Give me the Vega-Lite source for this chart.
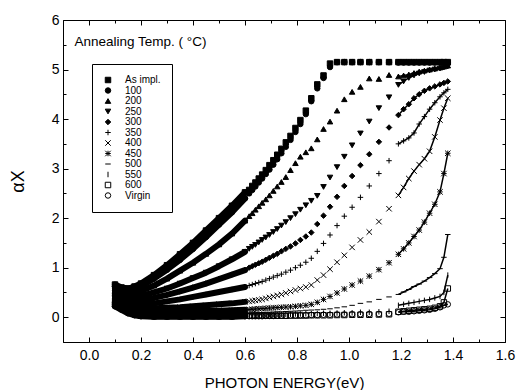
{
"$schema":"https://vega.github.io/schema/vega-lite/v6.json",
"width":442,"height":322,
"autosize":{"type":"none"},
"padding":{"left":63,"top":20,"right":16,"bottom":48},
"background":"white",
"data":{"values":[
{"s":"As impl.","e":0.1,"v":0.66},{"s":"As impl.","e":0.125,"v":0.6},{"s":"As impl.","e":0.15,"v":0.58},{"s":"As impl.","e":0.175,"v":0.62},{"s":"As impl.","e":0.2,"v":0.68},{"s":"As impl.","e":0.25,"v":0.85},{"s":"As impl.","e":0.3,"v":1.05},{"s":"As impl.","e":0.35,"v":1.27},{"s":"As impl.","e":0.4,"v":1.5},{"s":"As impl.","e":0.45,"v":1.75},{"s":"As impl.","e":0.5,"v":2.0},{"s":"As impl.","e":0.55,"v":2.25},{"s":"As impl.","e":0.6,"v":2.52},
{"s":"As impl.","e":0.616,"v":2.57},{"s":"As impl.","e":0.628,"v":2.65},{"s":"As impl.","e":0.64,"v":2.72},{"s":"As impl.","e":0.653,"v":2.8},{"s":"As impl.","e":0.666,"v":2.88},{"s":"As impl.","e":0.68,"v":2.97},{"s":"As impl.","e":0.694,"v":3.07},{"s":"As impl.","e":0.709,"v":3.17},{"s":"As impl.","e":0.724,"v":3.28},{"s":"As impl.","e":0.74,"v":3.4},{"s":"As impl.","e":0.757,"v":3.53},{"s":"As impl.","e":0.775,"v":3.66},{"s":"As impl.","e":0.794,"v":3.82},{"s":"As impl.","e":0.813,"v":3.98},{"s":"As impl.","e":0.834,"v":4.17},{"s":"As impl.","e":0.855,"v":4.42},{"s":"As impl.","e":0.878,"v":4.7},{"s":"As impl.","e":0.902,"v":4.88},{"s":"As impl.","e":0.927,"v":5.12},{"s":"As impl.","e":0.954,"v":5.15},{"s":"As impl.","e":0.982,"v":5.15},{"s":"As impl.","e":1.012,"v":5.15},{"s":"As impl.","e":1.044,"v":5.15},{"s":"As impl.","e":1.078,"v":5.15},{"s":"As impl.","e":1.115,"v":5.15},{"s":"As impl.","e":1.154,"v":5.15},
{"s":"As impl.","e":1.19,"v":5.15},{"s":"As impl.","e":1.21,"v":5.15},{"s":"As impl.","e":1.23,"v":5.15},{"s":"As impl.","e":1.25,"v":5.15},{"s":"As impl.","e":1.27,"v":5.15},{"s":"As impl.","e":1.29,"v":5.15},{"s":"As impl.","e":1.31,"v":5.15},{"s":"As impl.","e":1.33,"v":5.15},{"s":"As impl.","e":1.35,"v":5.15},{"s":"As impl.","e":1.365,"v":5.15},{"s":"As impl.","e":1.38,"v":5.15},
{"s":"100","e":0.1,"v":0.62},{"s":"100","e":0.125,"v":0.57},{"s":"100","e":0.15,"v":0.55},{"s":"100","e":0.175,"v":0.58},{"s":"100","e":0.2,"v":0.63},{"s":"100","e":0.25,"v":0.78},{"s":"100","e":0.3,"v":0.96},{"s":"100","e":0.35,"v":1.16},{"s":"100","e":0.4,"v":1.38},{"s":"100","e":0.45,"v":1.62},{"s":"100","e":0.5,"v":1.87},{"s":"100","e":0.55,"v":2.12},{"s":"100","e":0.6,"v":2.4},
{"s":"100","e":0.616,"v":2.5},{"s":"100","e":0.628,"v":2.57},{"s":"100","e":0.64,"v":2.64},{"s":"100","e":0.653,"v":2.72},{"s":"100","e":0.666,"v":2.8},{"s":"100","e":0.68,"v":2.89},{"s":"100","e":0.694,"v":2.98},{"s":"100","e":0.709,"v":3.08},{"s":"100","e":0.724,"v":3.19},{"s":"100","e":0.74,"v":3.31},{"s":"100","e":0.757,"v":3.44},{"s":"100","e":0.775,"v":3.58},{"s":"100","e":0.794,"v":3.74},{"s":"100","e":0.813,"v":3.9},{"s":"100","e":0.834,"v":4.1},{"s":"100","e":0.855,"v":4.36},{"s":"100","e":0.878,"v":4.62},{"s":"100","e":0.902,"v":4.83},{"s":"100","e":0.927,"v":5.05},{"s":"100","e":0.954,"v":5.15},{"s":"100","e":0.982,"v":5.15},{"s":"100","e":1.012,"v":5.15},{"s":"100","e":1.044,"v":5.15},{"s":"100","e":1.078,"v":5.15},{"s":"100","e":1.115,"v":5.15},{"s":"100","e":1.154,"v":5.15},
{"s":"100","e":1.19,"v":5.14},{"s":"100","e":1.21,"v":5.14},{"s":"100","e":1.23,"v":5.14},{"s":"100","e":1.25,"v":5.14},{"s":"100","e":1.27,"v":5.14},{"s":"100","e":1.29,"v":5.14},{"s":"100","e":1.31,"v":5.14},{"s":"100","e":1.33,"v":5.14},{"s":"100","e":1.35,"v":5.14},{"s":"100","e":1.365,"v":5.14},{"s":"100","e":1.38,"v":5.14},
{"s":"200","e":0.1,"v":0.58},{"s":"200","e":0.125,"v":0.52},{"s":"200","e":0.15,"v":0.49},{"s":"200","e":0.175,"v":0.5},{"s":"200","e":0.2,"v":0.53},{"s":"200","e":0.25,"v":0.64},{"s":"200","e":0.3,"v":0.78},{"s":"200","e":0.35,"v":0.94},{"s":"200","e":0.4,"v":1.1},{"s":"200","e":0.45,"v":1.28},{"s":"200","e":0.5,"v":1.47},{"s":"200","e":0.55,"v":1.69},{"s":"200","e":0.6,"v":1.95},
{"s":"200","e":0.616,"v":2.04},{"s":"200","e":0.628,"v":2.1},{"s":"200","e":0.64,"v":2.17},{"s":"200","e":0.653,"v":2.24},{"s":"200","e":0.666,"v":2.31},{"s":"200","e":0.68,"v":2.38},{"s":"200","e":0.694,"v":2.46},{"s":"200","e":0.709,"v":2.55},{"s":"200","e":0.724,"v":2.64},{"s":"200","e":0.74,"v":2.73},{"s":"200","e":0.757,"v":2.83},{"s":"200","e":0.775,"v":2.97},{"s":"200","e":0.794,"v":3.11},{"s":"200","e":0.813,"v":3.24},{"s":"200","e":0.834,"v":3.33},{"s":"200","e":0.855,"v":3.41},{"s":"200","e":0.878,"v":3.59},{"s":"200","e":0.902,"v":3.8},{"s":"200","e":0.927,"v":3.95},{"s":"200","e":0.954,"v":4.17},{"s":"200","e":0.982,"v":4.4},{"s":"200","e":1.012,"v":4.55},{"s":"200","e":1.044,"v":4.65},{"s":"200","e":1.078,"v":4.82},{"s":"200","e":1.115,"v":4.81},{"s":"200","e":1.154,"v":4.89},
{"s":"200","e":1.19,"v":4.86},{"s":"200","e":1.21,"v":4.88},{"s":"200","e":1.23,"v":4.9},{"s":"200","e":1.25,"v":4.93},{"s":"200","e":1.27,"v":4.96},{"s":"200","e":1.29,"v":4.98},{"s":"200","e":1.31,"v":5.0},{"s":"200","e":1.33,"v":5.02},{"s":"200","e":1.35,"v":5.04},{"s":"200","e":1.365,"v":5.06},{"s":"200","e":1.38,"v":5.08},
{"s":"250","e":0.1,"v":0.54},{"s":"250","e":0.125,"v":0.47},{"s":"250","e":0.15,"v":0.43},{"s":"250","e":0.175,"v":0.42},{"s":"250","e":0.2,"v":0.43},{"s":"250","e":0.25,"v":0.5},{"s":"250","e":0.3,"v":0.58},{"s":"250","e":0.35,"v":0.68},{"s":"250","e":0.4,"v":0.79},{"s":"250","e":0.45,"v":0.9},{"s":"250","e":0.5,"v":1.03},{"s":"250","e":0.55,"v":1.17},{"s":"250","e":0.6,"v":1.32},
{"s":"250","e":0.616,"v":1.38},{"s":"250","e":0.628,"v":1.42},{"s":"250","e":0.64,"v":1.46},{"s":"250","e":0.653,"v":1.51},{"s":"250","e":0.666,"v":1.56},{"s":"250","e":0.68,"v":1.61},{"s":"250","e":0.694,"v":1.66},{"s":"250","e":0.709,"v":1.72},{"s":"250","e":0.724,"v":1.78},{"s":"250","e":0.74,"v":1.85},{"s":"250","e":0.757,"v":1.92},{"s":"250","e":0.775,"v":2.0},{"s":"250","e":0.794,"v":2.08},{"s":"250","e":0.813,"v":2.17},{"s":"250","e":0.834,"v":2.26},{"s":"250","e":0.855,"v":2.35},{"s":"250","e":0.878,"v":2.45},{"s":"250","e":0.902,"v":2.63},{"s":"250","e":0.927,"v":2.82},{"s":"250","e":0.954,"v":3.03},{"s":"250","e":0.982,"v":3.24},{"s":"250","e":1.012,"v":3.47},{"s":"250","e":1.044,"v":3.71},{"s":"250","e":1.078,"v":3.95},{"s":"250","e":1.115,"v":4.22},{"s":"250","e":1.154,"v":4.44},
{"s":"250","e":1.19,"v":4.69},{"s":"250","e":1.21,"v":4.76},{"s":"250","e":1.23,"v":4.83},{"s":"250","e":1.25,"v":4.88},{"s":"250","e":1.27,"v":4.92},{"s":"250","e":1.29,"v":4.95},{"s":"250","e":1.31,"v":4.98},{"s":"250","e":1.33,"v":5.0},{"s":"250","e":1.35,"v":5.02},{"s":"250","e":1.365,"v":5.04},{"s":"250","e":1.38,"v":5.06},
{"s":"300","e":0.1,"v":0.5},{"s":"300","e":0.125,"v":0.42},{"s":"300","e":0.15,"v":0.37},{"s":"300","e":0.175,"v":0.35},{"s":"300","e":0.2,"v":0.35},{"s":"300","e":0.25,"v":0.39},{"s":"300","e":0.3,"v":0.45},{"s":"300","e":0.35,"v":0.52},{"s":"300","e":0.4,"v":0.6},{"s":"300","e":0.45,"v":0.68},{"s":"300","e":0.5,"v":0.77},{"s":"300","e":0.55,"v":0.86},{"s":"300","e":0.6,"v":0.95},
{"s":"300","e":0.616,"v":1.0},{"s":"300","e":0.628,"v":1.03},{"s":"300","e":0.64,"v":1.06},{"s":"300","e":0.653,"v":1.09},{"s":"300","e":0.666,"v":1.12},{"s":"300","e":0.68,"v":1.16},{"s":"300","e":0.694,"v":1.2},{"s":"300","e":0.709,"v":1.24},{"s":"300","e":0.724,"v":1.28},{"s":"300","e":0.74,"v":1.33},{"s":"300","e":0.757,"v":1.38},{"s":"300","e":0.775,"v":1.43},{"s":"300","e":0.794,"v":1.49},{"s":"300","e":0.813,"v":1.56},{"s":"300","e":0.834,"v":1.63},{"s":"300","e":0.855,"v":1.71},{"s":"300","e":0.878,"v":1.88},{"s":"300","e":0.902,"v":2.05},{"s":"300","e":0.927,"v":2.23},{"s":"300","e":0.954,"v":2.43},{"s":"300","e":0.982,"v":2.65},{"s":"300","e":1.012,"v":2.85},{"s":"300","e":1.044,"v":3.07},{"s":"300","e":1.078,"v":3.29},{"s":"300","e":1.115,"v":3.54},{"s":"300","e":1.154,"v":3.83},
{"s":"300","e":1.19,"v":4.08},{"s":"300","e":1.21,"v":4.2},{"s":"300","e":1.23,"v":4.3},{"s":"300","e":1.25,"v":4.42},{"s":"300","e":1.27,"v":4.5},{"s":"300","e":1.29,"v":4.57},{"s":"300","e":1.31,"v":4.62},{"s":"300","e":1.33,"v":4.66},{"s":"300","e":1.35,"v":4.7},{"s":"300","e":1.365,"v":4.73},{"s":"300","e":1.38,"v":4.76},
{"s":"350","e":0.1,"v":0.46},{"s":"350","e":0.125,"v":0.38},{"s":"350","e":0.15,"v":0.32},{"s":"350","e":0.175,"v":0.28},{"s":"350","e":0.2,"v":0.26},{"s":"350","e":0.25,"v":0.28},{"s":"350","e":0.3,"v":0.32},{"s":"350","e":0.35,"v":0.36},{"s":"350","e":0.4,"v":0.41},{"s":"350","e":0.45,"v":0.46},{"s":"350","e":0.5,"v":0.51},{"s":"350","e":0.55,"v":0.56},{"s":"350","e":0.6,"v":0.61},
{"s":"350","e":0.616,"v":0.64},{"s":"350","e":0.628,"v":0.66},{"s":"350","e":0.64,"v":0.68},{"s":"350","e":0.653,"v":0.7},{"s":"350","e":0.666,"v":0.72},{"s":"350","e":0.68,"v":0.75},{"s":"350","e":0.694,"v":0.78},{"s":"350","e":0.709,"v":0.81},{"s":"350","e":0.724,"v":0.84},{"s":"350","e":0.74,"v":0.87},{"s":"350","e":0.757,"v":0.91},{"s":"350","e":0.775,"v":0.95},{"s":"350","e":0.794,"v":1.0},{"s":"350","e":0.813,"v":1.05},{"s":"350","e":0.834,"v":1.11},{"s":"350","e":0.855,"v":1.19},{"s":"350","e":0.878,"v":1.33},{"s":"350","e":0.902,"v":1.49},{"s":"350","e":0.927,"v":1.66},{"s":"350","e":0.954,"v":1.85},{"s":"350","e":0.982,"v":2.04},{"s":"350","e":1.012,"v":2.22},{"s":"350","e":1.044,"v":2.42},{"s":"350","e":1.078,"v":2.65},{"s":"350","e":1.115,"v":2.9},{"s":"350","e":1.154,"v":3.16},
{"s":"350","e":1.19,"v":3.5},{"s":"350","e":1.21,"v":3.56},{"s":"350","e":1.23,"v":3.62},{"s":"350","e":1.25,"v":3.72},{"s":"350","e":1.27,"v":3.9},{"s":"350","e":1.29,"v":4.05},{"s":"350","e":1.31,"v":4.2},{"s":"350","e":1.33,"v":4.33},{"s":"350","e":1.35,"v":4.45},{"s":"350","e":1.365,"v":4.53},{"s":"350","e":1.38,"v":4.6},
{"s":"400","e":0.1,"v":0.42},{"s":"400","e":0.125,"v":0.34},{"s":"400","e":0.15,"v":0.27},{"s":"400","e":0.175,"v":0.22},{"s":"400","e":0.2,"v":0.19},{"s":"400","e":0.25,"v":0.18},{"s":"400","e":0.3,"v":0.19},{"s":"400","e":0.35,"v":0.2},{"s":"400","e":0.4,"v":0.22},{"s":"400","e":0.45,"v":0.24},{"s":"400","e":0.5,"v":0.26},{"s":"400","e":0.55,"v":0.28},{"s":"400","e":0.6,"v":0.31},
{"s":"400","e":0.616,"v":0.32},{"s":"400","e":0.628,"v":0.33},{"s":"400","e":0.64,"v":0.34},{"s":"400","e":0.653,"v":0.35},{"s":"400","e":0.666,"v":0.36},{"s":"400","e":0.68,"v":0.38},{"s":"400","e":0.694,"v":0.4},{"s":"400","e":0.709,"v":0.42},{"s":"400","e":0.724,"v":0.44},{"s":"400","e":0.74,"v":0.46},{"s":"400","e":0.757,"v":0.49},{"s":"400","e":0.775,"v":0.52},{"s":"400","e":0.794,"v":0.55},{"s":"400","e":0.813,"v":0.58},{"s":"400","e":0.834,"v":0.61},{"s":"400","e":0.855,"v":0.65},{"s":"400","e":0.878,"v":0.75},{"s":"400","e":0.902,"v":0.85},{"s":"400","e":0.927,"v":0.97},{"s":"400","e":0.954,"v":1.11},{"s":"400","e":0.982,"v":1.25},{"s":"400","e":1.012,"v":1.41},{"s":"400","e":1.044,"v":1.56},{"s":"400","e":1.078,"v":1.72},{"s":"400","e":1.115,"v":1.93},{"s":"400","e":1.154,"v":2.19},
{"s":"400","e":1.19,"v":2.46},{"s":"400","e":1.21,"v":2.62},{"s":"400","e":1.23,"v":2.8},{"s":"400","e":1.25,"v":2.95},{"s":"400","e":1.27,"v":3.08},{"s":"400","e":1.29,"v":3.2},{"s":"400","e":1.31,"v":3.35},{"s":"400","e":1.33,"v":3.64},{"s":"400","e":1.35,"v":3.98},{"s":"400","e":1.365,"v":4.22},{"s":"400","e":1.38,"v":4.42},
{"s":"450","e":0.1,"v":0.38},{"s":"450","e":0.125,"v":0.3},{"s":"450","e":0.15,"v":0.22},{"s":"450","e":0.175,"v":0.17},{"s":"450","e":0.2,"v":0.13},{"s":"450","e":0.25,"v":0.11},{"s":"450","e":0.3,"v":0.11},{"s":"450","e":0.35,"v":0.11},{"s":"450","e":0.4,"v":0.12},{"s":"450","e":0.45,"v":0.13},{"s":"450","e":0.5,"v":0.13},{"s":"450","e":0.55,"v":0.14},{"s":"450","e":0.6,"v":0.15},
{"s":"450","e":0.616,"v":0.155},{"s":"450","e":0.628,"v":0.16},{"s":"450","e":0.64,"v":0.165},{"s":"450","e":0.653,"v":0.17},{"s":"450","e":0.666,"v":0.175},{"s":"450","e":0.68,"v":0.18},{"s":"450","e":0.694,"v":0.185},{"s":"450","e":0.709,"v":0.19},{"s":"450","e":0.724,"v":0.195},{"s":"450","e":0.74,"v":0.2},{"s":"450","e":0.757,"v":0.205},{"s":"450","e":0.775,"v":0.21},{"s":"450","e":0.794,"v":0.22},{"s":"450","e":0.813,"v":0.23},{"s":"450","e":0.834,"v":0.24},{"s":"450","e":0.855,"v":0.26},{"s":"450","e":0.878,"v":0.3},{"s":"450","e":0.902,"v":0.36},{"s":"450","e":0.927,"v":0.42},{"s":"450","e":0.954,"v":0.49},{"s":"450","e":0.982,"v":0.57},{"s":"450","e":1.012,"v":0.65},{"s":"450","e":1.044,"v":0.73},{"s":"450","e":1.078,"v":0.83},{"s":"450","e":1.115,"v":0.96},{"s":"450","e":1.154,"v":1.1},
{"s":"450","e":1.19,"v":1.27},{"s":"450","e":1.21,"v":1.38},{"s":"450","e":1.23,"v":1.5},{"s":"450","e":1.25,"v":1.63},{"s":"450","e":1.27,"v":1.76},{"s":"450","e":1.29,"v":1.92},{"s":"450","e":1.31,"v":2.1},{"s":"450","e":1.33,"v":2.28},{"s":"450","e":1.35,"v":2.53},{"s":"450","e":1.365,"v":2.9},{"s":"450","e":1.38,"v":3.31},
{"s":"500","e":0.1,"v":0.34},{"s":"500","e":0.125,"v":0.26},{"s":"500","e":0.15,"v":0.18},{"s":"500","e":0.175,"v":0.12},{"s":"500","e":0.2,"v":0.09},{"s":"500","e":0.25,"v":0.07},{"s":"500","e":0.3,"v":0.07},{"s":"500","e":0.35,"v":0.07},{"s":"500","e":0.4,"v":0.07},{"s":"500","e":0.45,"v":0.08},{"s":"500","e":0.5,"v":0.08},{"s":"500","e":0.55,"v":0.08},{"s":"500","e":0.6,"v":0.08},
{"s":"500","e":0.616,"v":0.08},{"s":"500","e":0.628,"v":0.085},{"s":"500","e":0.64,"v":0.09},{"s":"500","e":0.653,"v":0.09},{"s":"500","e":0.666,"v":0.095},{"s":"500","e":0.68,"v":0.1},{"s":"500","e":0.694,"v":0.1},{"s":"500","e":0.709,"v":0.105},{"s":"500","e":0.724,"v":0.11},{"s":"500","e":0.74,"v":0.11},{"s":"500","e":0.757,"v":0.115},{"s":"500","e":0.775,"v":0.12},{"s":"500","e":0.794,"v":0.125},{"s":"500","e":0.813,"v":0.13},{"s":"500","e":0.834,"v":0.14},{"s":"500","e":0.855,"v":0.145},{"s":"500","e":0.878,"v":0.15},{"s":"500","e":0.902,"v":0.16},{"s":"500","e":0.927,"v":0.17},{"s":"500","e":0.954,"v":0.19},{"s":"500","e":0.982,"v":0.21},{"s":"500","e":1.012,"v":0.24},{"s":"500","e":1.044,"v":0.28},{"s":"500","e":1.078,"v":0.31},{"s":"500","e":1.115,"v":0.36},{"s":"500","e":1.154,"v":0.41},
{"s":"500","e":1.19,"v":0.46},{"s":"500","e":1.21,"v":0.51},{"s":"500","e":1.23,"v":0.56},{"s":"500","e":1.25,"v":0.62},{"s":"500","e":1.27,"v":0.67},{"s":"500","e":1.29,"v":0.73},{"s":"500","e":1.31,"v":0.8},{"s":"500","e":1.33,"v":0.88},{"s":"500","e":1.35,"v":0.98},{"s":"500","e":1.365,"v":1.21},{"s":"500","e":1.38,"v":1.67},
{"s":"550","e":0.1,"v":0.3},{"s":"550","e":0.125,"v":0.22},{"s":"550","e":0.15,"v":0.14},{"s":"550","e":0.175,"v":0.09},{"s":"550","e":0.2,"v":0.06},{"s":"550","e":0.25,"v":0.05},{"s":"550","e":0.3,"v":0.04},{"s":"550","e":0.35,"v":0.04},{"s":"550","e":0.4,"v":0.04},{"s":"550","e":0.45,"v":0.04},{"s":"550","e":0.5,"v":0.04},{"s":"550","e":0.55,"v":0.04},{"s":"550","e":0.6,"v":0.04},
{"s":"550","e":0.616,"v":0.04},{"s":"550","e":0.628,"v":0.04},{"s":"550","e":0.64,"v":0.04},{"s":"550","e":0.653,"v":0.045},{"s":"550","e":0.666,"v":0.045},{"s":"550","e":0.68,"v":0.05},{"s":"550","e":0.694,"v":0.05},{"s":"550","e":0.709,"v":0.05},{"s":"550","e":0.724,"v":0.055},{"s":"550","e":0.74,"v":0.055},{"s":"550","e":0.757,"v":0.06},{"s":"550","e":0.775,"v":0.06},{"s":"550","e":0.794,"v":0.065},{"s":"550","e":0.813,"v":0.065},{"s":"550","e":0.834,"v":0.07},{"s":"550","e":0.855,"v":0.07},{"s":"550","e":0.878,"v":0.075},{"s":"550","e":0.902,"v":0.08},{"s":"550","e":0.927,"v":0.08},{"s":"550","e":0.954,"v":0.085},{"s":"550","e":0.982,"v":0.09},{"s":"550","e":1.012,"v":0.09},{"s":"550","e":1.044,"v":0.1},{"s":"550","e":1.078,"v":0.1},{"s":"550","e":1.115,"v":0.11},{"s":"550","e":1.154,"v":0.12},
{"s":"550","e":1.19,"v":0.24},{"s":"550","e":1.21,"v":0.26},{"s":"550","e":1.23,"v":0.28},{"s":"550","e":1.25,"v":0.3},{"s":"550","e":1.27,"v":0.32},{"s":"550","e":1.29,"v":0.34},{"s":"550","e":1.31,"v":0.36},{"s":"550","e":1.33,"v":0.39},{"s":"550","e":1.35,"v":0.42},{"s":"550","e":1.365,"v":0.5},{"s":"550","e":1.38,"v":0.85},
{"s":"600","e":0.1,"v":0.26},{"s":"600","e":0.125,"v":0.18},{"s":"600","e":0.15,"v":0.11},{"s":"600","e":0.175,"v":0.06},{"s":"600","e":0.2,"v":0.03},{"s":"600","e":0.25,"v":0.02},{"s":"600","e":0.3,"v":0.02},{"s":"600","e":0.35,"v":0.02},{"s":"600","e":0.4,"v":0.02},{"s":"600","e":0.45,"v":0.02},{"s":"600","e":0.5,"v":0.02},{"s":"600","e":0.55,"v":0.02},{"s":"600","e":0.6,"v":0.03},
{"s":"600","e":0.616,"v":0.03},{"s":"600","e":0.628,"v":0.03},{"s":"600","e":0.64,"v":0.03},{"s":"600","e":0.653,"v":0.03},{"s":"600","e":0.666,"v":0.03},{"s":"600","e":0.68,"v":0.03},{"s":"600","e":0.694,"v":0.03},{"s":"600","e":0.709,"v":0.03},{"s":"600","e":0.724,"v":0.03},{"s":"600","e":0.74,"v":0.03},{"s":"600","e":0.757,"v":0.03},{"s":"600","e":0.775,"v":0.035},{"s":"600","e":0.794,"v":0.035},{"s":"600","e":0.813,"v":0.035},{"s":"600","e":0.834,"v":0.035},{"s":"600","e":0.855,"v":0.04},{"s":"600","e":0.878,"v":0.04},{"s":"600","e":0.902,"v":0.04},{"s":"600","e":0.927,"v":0.04},{"s":"600","e":0.954,"v":0.045},{"s":"600","e":0.982,"v":0.045},{"s":"600","e":1.012,"v":0.05},{"s":"600","e":1.044,"v":0.05},{"s":"600","e":1.078,"v":0.05},{"s":"600","e":1.115,"v":0.055},{"s":"600","e":1.154,"v":0.06},
{"s":"600","e":1.19,"v":0.11},{"s":"600","e":1.21,"v":0.12},{"s":"600","e":1.23,"v":0.13},{"s":"600","e":1.25,"v":0.14},{"s":"600","e":1.27,"v":0.15},{"s":"600","e":1.29,"v":0.16},{"s":"600","e":1.31,"v":0.17},{"s":"600","e":1.33,"v":0.19},{"s":"600","e":1.35,"v":0.22},{"s":"600","e":1.365,"v":0.3},{"s":"600","e":1.38,"v":0.58},
{"s":"Virgin","e":0.1,"v":0.22},{"s":"Virgin","e":0.125,"v":0.15},{"s":"Virgin","e":0.15,"v":0.08},{"s":"Virgin","e":0.175,"v":0.04},{"s":"Virgin","e":0.2,"v":0.02},{"s":"Virgin","e":0.25,"v":0.01},{"s":"Virgin","e":0.3,"v":0.01},{"s":"Virgin","e":0.35,"v":0.01},{"s":"Virgin","e":0.4,"v":0.01},{"s":"Virgin","e":0.45,"v":0.01},{"s":"Virgin","e":0.5,"v":0.01},{"s":"Virgin","e":0.55,"v":0.01},{"s":"Virgin","e":0.6,"v":0.02},
{"s":"Virgin","e":0.616,"v":0.02},{"s":"Virgin","e":0.628,"v":0.02},{"s":"Virgin","e":0.64,"v":0.02},{"s":"Virgin","e":0.653,"v":0.02},{"s":"Virgin","e":0.666,"v":0.02},{"s":"Virgin","e":0.68,"v":0.025},{"s":"Virgin","e":0.694,"v":0.025},{"s":"Virgin","e":0.709,"v":0.025},{"s":"Virgin","e":0.724,"v":0.03},{"s":"Virgin","e":0.74,"v":0.03},{"s":"Virgin","e":0.757,"v":0.03},{"s":"Virgin","e":0.775,"v":0.035},{"s":"Virgin","e":0.794,"v":0.035},{"s":"Virgin","e":0.813,"v":0.04},{"s":"Virgin","e":0.834,"v":0.04},{"s":"Virgin","e":0.855,"v":0.045},{"s":"Virgin","e":0.878,"v":0.045},{"s":"Virgin","e":0.902,"v":0.05},{"s":"Virgin","e":0.927,"v":0.05},{"s":"Virgin","e":0.954,"v":0.055},{"s":"Virgin","e":0.982,"v":0.055},{"s":"Virgin","e":1.012,"v":0.06},{"s":"Virgin","e":1.044,"v":0.06},{"s":"Virgin","e":1.078,"v":0.065},{"s":"Virgin","e":1.115,"v":0.065},{"s":"Virgin","e":1.154,"v":0.07},
{"s":"Virgin","e":1.19,"v":0.1},{"s":"Virgin","e":1.21,"v":0.11},{"s":"Virgin","e":1.23,"v":0.11},{"s":"Virgin","e":1.25,"v":0.12},{"s":"Virgin","e":1.27,"v":0.13},{"s":"Virgin","e":1.29,"v":0.14},{"s":"Virgin","e":1.31,"v":0.15},{"s":"Virgin","e":1.33,"v":0.17},{"s":"Virgin","e":1.35,"v":0.2},{"s":"Virgin","e":1.365,"v":0.24},{"s":"Virgin","e":1.38,"v":0.26}
]},
"layer":[
{"transform":[{"filter":"datum.e <= 0.6"}],
 "mark":{"type":"line","stroke":"black","strokeWidth":6,"strokeCap":"round","strokeJoin":"round"},
 "encoding":{
  "x":{"field":"e","type":"quantitative","scale":{"domain":[-0.1,1.6],"nice":false,"zero":false},
       "axis":{"orient":"top","labels":false,"domain":false,"title":null,"values":[0,0.1,0.2,0.3,0.4,0.5,0.6,0.7,0.8,0.9,1.0,1.1,1.2,1.3,1.4,1.5,1.6],
               "tickSize":{"condition":{"test":"round(datum.value*10) % 2 == 0","value":-5},"value":-3}}},
  "y":{"field":"v","type":"quantitative","scale":{"domain":[-0.5,6],"nice":false,"zero":false},
       "axis":{"orient":"right","labels":false,"domain":false,"title":null,"values":[0,0.5,1,1.5,2,2.5,3,3.5,4,4.5,5,5.5,6],
               "tickSize":{"condition":{"test":"datum.value % 1 == 0","value":-5},"value":-3}}},
  "detail":{"field":"s"}
 }},
{"transform":[{"filter":"datum.e >= 1.18"}],
 "mark":{"type":"line","stroke":"black","strokeWidth":1.5},
 "encoding":{
  "x":{"field":"e","type":"quantitative","scale":{"domain":[-0.1,1.6],"nice":false,"zero":false},"axis":null},
  "y":{"field":"v","type":"quantitative","scale":{"domain":[-0.5,6],"nice":false,"zero":false},"axis":null},
  "detail":{"field":"s"}
 }},
{"mark":{"type":"point","strokeWidth":1,"size":30,"opacity":1},
 "encoding":{
  "x":{"field":"e","type":"quantitative","scale":{"domain":[-0.1,1.6],"nice":false,"zero":false},
       "axis":{"orient":"bottom","title":"PHOTON ENERGY(eV)","values":[0,0.1,0.2,0.3,0.4,0.5,0.6,0.7,0.8,0.9,1.0,1.1,1.2,1.3,1.4,1.5,1.6],
               "labelExpr":"round(datum.value*10) % 2 == 0 ? format(datum.value, '.1f') : ''",
               "tickSize":{"condition":{"test":"round(datum.value*10) % 2 == 0","value":-5},"value":-3},
               "labelPadding":11,"labelFontSize":14,"titleFontSize":15,"titlePadding":11,"labelFlush":false,"labelOverlap":false}},
  "y":{"field":"v","type":"quantitative","scale":{"domain":[-0.5,6],"nice":false,"zero":false},
       "axis":{"orient":"left","title":"αX","values":[0,0.5,1,1.5,2,2.5,3,3.5,4,4.5,5,5.5,6],
               "labelExpr":"datum.value % 1 == 0 ? format(datum.value, 'd') : ''",
               "tickSize":{"condition":{"test":"datum.value % 1 == 0","value":-5},"value":-3},
               "labelPadding":9,"labelFontSize":14,"titleFontSize":18,"titlePadding":24,"labelFlush":false,"labelOverlap":false}},
  "shape":{"field":"s","type":"nominal",
    "scale":{"domain":["As impl.","100","200","250","300","350","400","450","500","550","600","Virgin"],
             "range":["square","circle","triangle-up","triangle-down","diamond","M-1,0H1M0,-1V1","M-1,-1L1,1M-1,1L1,-1","M-1,-1L1,1M-1,1L1,-1M-1,0H1M0,-1V1","M-1,0H1","M0,-1V1","square","circle"]},
    "legend":{"title":null}},
  "fill":{"field":"s","type":"nominal",
    "scale":{"domain":["As impl.","100","200","250","300","350","400","450","500","550","600","Virgin"],
             "range":["black","black","black","black","black","transparent","transparent","transparent","transparent","transparent","transparent","transparent"]},
    "legend":{"title":null}},
  "stroke":{"field":"s","type":"nominal",
    "scale":{"domain":["As impl.","100","200","250","300","350","400","450","500","550","600","Virgin"],
             "range":["black","black","black","black","black","black","black","black","black","black","black","black"]},
    "legend":{"title":null}}
 }},
{"data":{"values":[{"note":"Annealing Temp. ( °C)"}]},
 "mark":{"type":"text","align":"left","baseline":"middle","font":"Liberation Sans","fontSize":13.5,"color":"black"},
 "encoding":{
  "x":{"datum":-0.056,"type":"quantitative","scale":{"domain":[-0.1,1.6],"nice":false,"zero":false},"axis":null},
  "y":{"datum":5.56,"type":"quantitative","scale":{"domain":[-0.5,6],"nice":false,"zero":false},"axis":null},
  "text":{"field":"note","type":"nominal"}
 }}
],
"resolve":{"axis":{"x":"independent","y":"independent"}},
"config":{
 "view":{"stroke":"black","strokeWidth":1},
 "font":"Liberation Sans",
 "axis":{"grid":false,"domainColor":"black","tickColor":"black","labelColor":"black","titleColor":"black","labelFont":"Liberation Sans","titleFont":"Liberation Sans","titleFontWeight":"normal","tickWidth":1,"domainWidth":1},
 "legend":{"orient":"none","legendX":29,"legendY":44,"strokeColor":"black","fillColor":"white","padding":11,"labelFontSize":10,"labelFont":"Liberation Sans","labelColor":"black","symbolStrokeWidth":1,"symbolSize":30,"rowPadding":0.5,"labelOffset":12,"cornerRadius":0}
}
}
